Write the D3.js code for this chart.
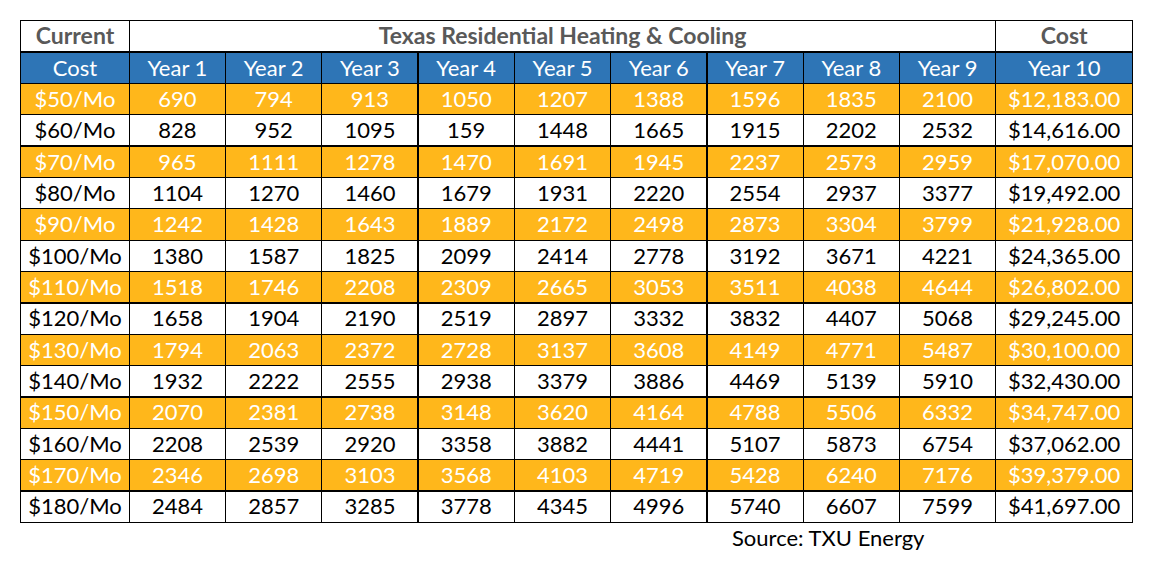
<!DOCTYPE html>
<html>
<head>
<meta charset="utf-8">
<script src="https://cdn.jsdelivr.net/npm/d3@7"></script>
<style>
  html, body { margin: 0; padding: 0; background: #fff; }
  svg { display: block; font-family: Lato, "Open Sans", sans-serif; }
</style>
</head>
<body>
<div id="chart"></div>
<script>
// Texas residential heating & cooling cost table
const costLabels = ['$50/Mo', '$60/Mo', '$70/Mo', '$80/Mo', '$90/Mo', '$100/Mo', '$110/Mo',
    '$120/Mo', '$130/Mo', '$140/Mo', '$150/Mo', '$160/Mo', '$170/Mo', '$180/Mo'];

const yearLabels = ['Year 1', 'Year 2', 'Year 3', 'Year 4', 'Year 5', 'Year 6', 'Year 7', 'Year 8', 'Year 9'];

const yearValues = [
    [690, 794, 913, 1050, 1207, 1388, 1596, 1835, 2100],
    [828, 952, 1095, 159, 1448, 1665, 1915, 2202, 2532],
    [965, 1111, 1278, 1470, 1691, 1945, 2237, 2573, 2959],
    [1104, 1270, 1460, 1679, 1931, 2220, 2554, 2937, 3377],
    [1242, 1428, 1643, 1889, 2172, 2498, 2873, 3304, 3799],
    [1380, 1587, 1825, 2099, 2414, 2778, 3192, 3671, 4221],
    [1518, 1746, 2208, 2309, 2665, 3053, 3511, 4038, 4644],
    [1658, 1904, 2190, 2519, 2897, 3332, 3832, 4407, 5068],
    [1794, 2063, 2372, 2728, 3137, 3608, 4149, 4771, 5487],
    [1932, 2222, 2555, 2938, 3379, 3886, 4469, 5139, 5910],
    [2070, 2381, 2738, 3148, 3620, 4164, 4788, 5506, 6332],
    [2208, 2539, 2920, 3358, 3882, 4441, 5107, 5873, 6754],
    [2346, 2698, 3103, 3568, 4103, 4719, 5428, 6240, 7176],
    [2484, 2857, 3285, 3778, 4345, 4996, 5740, 6607, 7599]
];

const year10Cost = [12183, 14616, 17070, 19492, 21928, 24365, 26802, 29245, 30100,
    32430, 34747, 37062, 39379, 41697];

const headerTop = ['Current', 'Texas Residential Heating & Cooling', 'Cost'];
const headerSub = ['Cost', 'Year 10'];
const sourceText = 'Source: TXU Energy';

(function() {
    const width = 1154, height = 562;
    const left = 20.7, firstRight = 129.3, lastLeft = 995.7, right = 1132.7;
    const top = 20.7, bottom = 522.3;

    const blue = '#2E75B6', orange = '#FFB71B', gray = '#595959';
    const fontSize = 22;
    const dy = 7.8;

    const svg = d3.select('#chart').append('svg')
        .attr('width', width)
        .attr('height', height);

    const rowKeys = d3.range(costLabels.length + 2);
    const y = d3.scaleBand().domain(rowKeys).range([top, bottom]);
    const x = d3.scaleBand().domain(yearLabels).range([firstRight, lastLeft]);
    const rh = y.bandwidth();

    const fmt = d3.format('$,.2f');

    // row backgrounds
    svg.append('rect')
        .attr('x', left).attr('y', y(1))
        .attr('width', right - left).attr('height', rh)
        .attr('fill', blue);

    svg.selectAll('.band')
        .data(costLabels)
        .enter()
        .append('rect')
        .attr('x', left)
        .attr('y', (d, i) => y(i + 2))
        .attr('width', right - left)
        .attr('height', rh)
        .attr('fill', (d, i) => i % 2 === 0 ? orange : '#ffffff');

    // grid lines
    const grid = svg.append('g')
        .attr('stroke', '#000')
        .attr('stroke-width', 1.3)
        .attr('shape-rendering', 'crispEdges');

    grid.selectAll('.hline')
        .data(rowKeys.slice(1))
        .enter()
        .append('line')
        .attr('x1', left).attr('x2', right)
        .attr('y1', d => y(d)).attr('y2', d => y(d));

    const inner = yearLabels.slice(1).map(d => x(d));
    grid.selectAll('.vline')
        .data(inner)
        .enter()
        .append('line')
        .attr('x1', d => d).attr('x2', d => d)
        .attr('y1', y(1)).attr('y2', bottom);

    [firstRight, lastLeft].forEach(xx => {
        grid.append('line')
            .attr('x1', xx).attr('x2', xx)
            .attr('y1', top).attr('y2', bottom);
    });

    grid.append('rect')
        .attr('x', left).attr('y', top)
        .attr('width', right - left).attr('height', bottom - top)
        .attr('fill', 'none');

    const firstMid = (left + firstRight) / 2;
    const lastMid = (lastLeft + right) / 2;
    const textY = r => y(r) + rh / 2 + dy;

    // top header
    const topX = [firstMid, (firstRight + lastLeft) / 2, lastMid];
    svg.selectAll('.htop')
        .data(headerTop)
        .enter()
        .append('text')
        .attr('x', (d, i) => topX[i])
        .attr('y', textY(0))
        .attr('text-anchor', 'middle')
        .attr('font-size', '23px')
        .attr('font-weight', 'bold')
        .attr('fill', gray)
        .text(d => d);

    // sub header
    const sub = svg.append('g')
        .attr('fill', '#fff')
        .attr('font-size', fontSize + 'px')
        .attr('text-anchor', 'middle');
    sub.append('text').attr('x', firstMid).attr('y', textY(1)).text(headerSub[0]);
    sub.selectAll('.yr')
        .data(yearLabels)
        .enter()
        .append('text')
        .attr('x', d => x(d) + x.bandwidth() / 2)
        .attr('y', textY(1))
        .text(d => d);
    sub.append('text').attr('x', lastMid).attr('y', textY(1)).text(headerSub[1]);

    // body rows
    const rows = svg.selectAll('.row')
        .data(costLabels)
        .enter()
        .append('g')
        .attr('font-size', fontSize + 'px')
        .attr('text-anchor', 'middle')
        .attr('fill', (d, i) => i % 2 === 0 ? '#fff' : '#000');

    rows.append('text')
        .attr('x', firstMid)
        .attr('y', (d, i) => textY(i + 2))
        .text(d => d);

    rows.each(function(d, i) {
        d3.select(this).selectAll('.v')
            .data(yearValues[i])
            .enter()
            .append('text')
            .attr('x', (v, j) => x(yearLabels[j]) + x.bandwidth() / 2)
            .attr('y', textY(i + 2))
            .text(v => v);
        d3.select(this).append('text')
            .attr('x', lastMid)
            .attr('y', textY(i + 2))
            .text(fmt(year10Cost[i]));
    });

    svg.append('text')
        .attr('x', 732)
        .attr('y', 546)
        .attr('font-size', '22px')
        .attr('fill', '#000')
        .text(sourceText);
})();
</script>
</body>
</html>
